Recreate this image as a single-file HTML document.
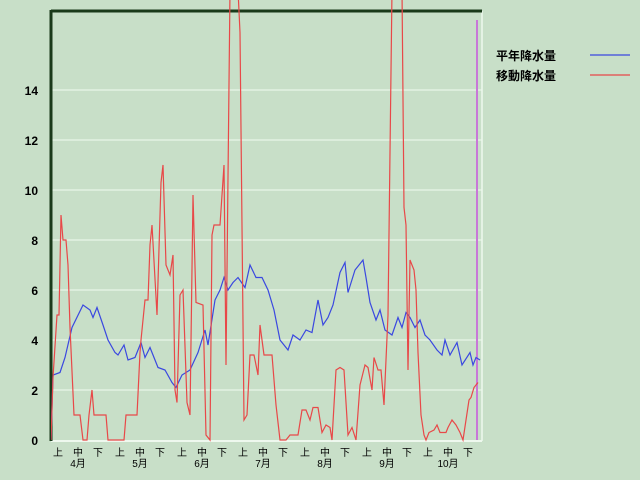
<!DOCTYPE html>
<html><head><meta charset="utf-8"><style>
body{margin:0;background:#c8dfc8;}
svg{display:block;font-family:"Liberation Sans","Noto Sans CJK JP",sans-serif;}
</style></head><body>
<svg width="640" height="480" viewBox="0 0 640 480">
<rect width="640" height="480" fill="#c8dfc8"/>
<defs><clipPath id="c"><rect x="51" y="0" width="432" height="442"/></clipPath></defs>
<g stroke="#e2f2e2" stroke-width="1.5">
<line x1="51" y1="390" x2="482" y2="390"/><line x1="51" y1="340" x2="482" y2="340"/>
<line x1="51" y1="290" x2="482" y2="290"/><line x1="51" y1="240" x2="482" y2="240"/>
<line x1="51" y1="190" x2="482" y2="190"/><line x1="51" y1="140" x2="482" y2="140"/>
<line x1="51" y1="90" x2="482" y2="90"/>
<line x1="51" y1="441" x2="482" y2="441" stroke="#eef8ee" stroke-width="2"/>
<line x1="482" y1="11" x2="482" y2="441" stroke="#eef8ee"/>
</g>
<line x1="477" y1="20" x2="477" y2="440" stroke="#c878d8" stroke-width="2"/>
<line x1="51" y1="11" x2="482" y2="11" stroke="#1a3a1a" stroke-width="3"/>
<line x1="51" y1="10" x2="51" y2="441" stroke="#1a3a1a" stroke-width="3"/>
<g font-size="12" font-weight="bold" text-anchor="end" fill="#000">
<text x="38" y="445">0</text><text x="38" y="395">2</text><text x="38" y="345">4</text>
<text x="38" y="295">6</text><text x="38" y="245">8</text><text x="38" y="195">10</text>
<text x="38" y="145">12</text><text x="38" y="95">14</text>
</g>
<g clip-path="url(#c)" fill="none" stroke-width="1.2">
<g transform="translate(0,440) scale(1,-25)">
<polyline vector-effect="non-scaling-stroke" stroke="#3a48e0" points="51,0 53,2.6 60,2.7 65,3.3 72,4.5 83,5.4 90,5.2 93,4.9 97,5.3 103,4.6 108,4 115,3.5 118,3.4 124,3.8 128,3.2 135,3.3 141,3.9 145,3.3 150,3.7 158,2.9 165,2.8 172,2.3 176,2.1 182,2.6 190,2.8 198,3.5 205,4.4 208,3.8 215,5.6 220,6 224,6.5 228,6 233,6.3 238,6.5 245,6.1 250,7 256,6.5 262,6.5 268,6 274,5.2 280,4 288,3.6 293,4.2 300,4 306,4.4 312,4.3 318,5.6 323,4.6 328,4.9 333,5.4 340,6.7 345,7.1 348,5.9 355,6.8 363,7.2 366,6.5 370,5.5 376,4.8 380,5.2 385,4.4 392,4.2 398,4.9 402,4.5 406,5.1 410,4.9 415,4.5 420,4.8 425,4.2 430,4 437,3.6 442,3.4 445,4 450,3.4 457,3.9 462,3 470,3.5 473,3 476,3.3 480,3.2"/>
<polyline vector-effect="non-scaling-stroke" stroke="#e84848" points="51,0 53,2.5 57,5 59,5 61,9 63,8 66,8 68,7 70,4.5 74,1 80,1 83,0 87,0 89,1 92,2 94,1 106,1 108,0 124,0 126,1 137,1 140,3.5 141,4 145,5.6 148,5.6 150,7.8 152,8.6 157,5 161,10.3 163,11 166,7 170,6.6 173,7.4 175,2 177,1.5 180,5.8 183,6 187,1.5 190,1 193,9.8 196,5.5 203,5.4 206,0.2 210,0 212,8.2 214,8.6 220,8.6 224,11 226,3 230,18 238,18 240,16.3 244,0.8 247,1 250,3.4 254,3.4 258,2.6 260,4.6 264,3.4 272,3.4 276,1.4 280,0 286,0 290,0.2 298,0.2 302,1.2 306,1.2 310,0.8 313,1.3 318,1.3 322,0.3 326,0.6 330,0.5 332,0 336,2.8 340,2.9 344,2.8 348,0.2 352,0.5 356,0 360,2.2 365,3 368,2.9 372,2 374,3.3 378,2.8 381,2.8 384,1.4 388,5 392,18 402,18 404,9.3 406,8.6 408,2.8 410,7.2 414,6.8 416,6 418,3.5 421,1 424,0.2 426,0 429,0.3 434,0.4 437,0.6 440,0.3 446,0.3 448,0.5 452,0.8 456,0.6 460,0.3 463,0 466,0.8 469,1.6 471,1.7 474,2.1 478,2.3"/>
</g></g>
<g font-size="10" text-anchor="middle" fill="#000">
<text x="58" y="456">上</text><text x="78" y="456">中</text><text x="98" y="456">下</text>
<text x="120" y="456">上</text><text x="140" y="456">中</text><text x="160" y="456">下</text>
<text x="182" y="456">上</text><text x="202" y="456">中</text><text x="222" y="456">下</text>
<text x="243" y="456">上</text><text x="263" y="456">中</text><text x="283" y="456">下</text>
<text x="305" y="456">上</text><text x="325" y="456">中</text><text x="345" y="456">下</text>
<text x="367" y="456">上</text><text x="387" y="456">中</text><text x="407" y="456">下</text>
<text x="428" y="456">上</text><text x="448" y="456">中</text><text x="468" y="456">下</text>
<text x="78" y="467">4月</text><text x="140" y="467">5月</text><text x="202" y="467">6月</text>
<text x="263" y="467">7月</text><text x="325" y="467">8月</text><text x="387" y="467">9月</text>
<text x="448" y="467">10月</text>
</g>
<g font-size="12" font-weight="bold" fill="#000">
<text x="496" y="60">平年降水量</text><text x="496" y="80">移動降水量</text>
</g>
<line x1="590" y1="55" x2="630" y2="55" stroke="#3a48e0" stroke-width="1.2"/>
<line x1="590" y1="75" x2="630" y2="75" stroke="#e84848" stroke-width="1.2"/>
</svg>
</body></html>
